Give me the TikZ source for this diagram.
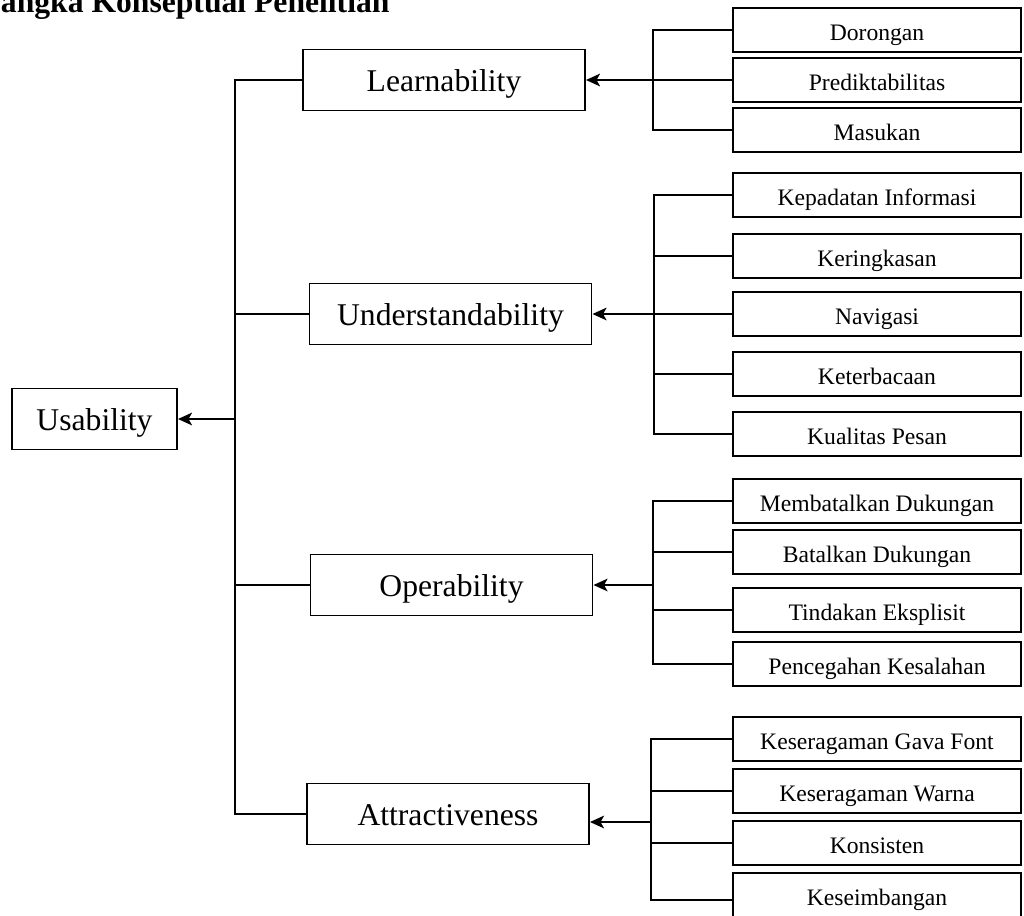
\documentclass[tikz,border=0pt]{standalone}
\usepackage{fontspec}
\setmainfont{Liberation Serif}
\usetikzlibrary{arrows.meta}
\begin{document}
\begin{tikzpicture}[x=0.025cm,y=-0.025cm,
  line width=1.35pt,
  mainbox/.style={draw, inner sep=0pt, minimum width=7.05cm, minimum height=1.525cm,
    text height=19pt, text depth=3.2pt, font=\fontsize{22.5}{27}\selectfont},
  subbox/.style={draw, inner sep=0pt, minimum width=7.2cm, minimum height=1.1cm,
    text height=16.8pt, text depth=2.3pt, font=\fontsize{16.8}{20}\selectfont},
  arr/.style={-{Stealth[length=10pt,width=9pt,inset=2.5pt]}},
  titletext/.style={anchor=base west, inner sep=0pt, font=\fontsize{22.5}{27}\selectfont\bfseries}]
\useasboundingbox (0,0) rectangle (1024,915);
\clip (0,0) rectangle (1024,915);

% title (cropped at the top)
\node[titletext] (title) at (0,12) {angka Konseptual Penelitian};

% main boxes
\node[mainbox, minimum width=4.125cm] (usab) at (94.5,419) {Usability};
\node[mainbox] (learn) at (444,80) {Learnability};
\node[mainbox] (under) at (450.5,314) {Understandability};
\node[mainbox] (oper) at (451.5,585) {Operability};
\node[mainbox] (attr) at (448,814) {Attractiveness};

% group 1
\node[subbox] (dor) at (877,30) {Dorongan};
\node[subbox] (pred) at (877,80) {Prediktabilitas};
\node[subbox] (mas) at (877,130) {Masukan};
% group 2
\node[subbox] (kep) at (877,195) {Kepadatan Informasi};
\node[subbox] (ker) at (877,256) {Keringkasan};
\node[subbox] (nav) at (877,314) {Navigasi};
\node[subbox] (ket) at (877,374) {Keterbacaan};
\node[subbox] (kua) at (877,434) {Kualitas Pesan};
% group 3
\node[subbox] (memb) at (877,501) {Membatalkan Dukungan};
\node[subbox] (bat) at (877,552) {Batalkan Dukungan};
\node[subbox] (tin) at (877,610) {Tindakan Eksplisit};
\node[subbox] (pen) at (877,664) {Pencegahan Kesalahan};
% group 4
\node[subbox] (gaya) at (877,739) {Keseragaman Gava Font};
\node[subbox] (warna) at (877,791) {Keseragaman Warna};
\node[subbox] (kons) at (877,843) {Konsisten};
\node[subbox] (seimb) at (877,895) {Keseimbangan};

% left trunk
\coordinate (ttop) at (235,80);
\coordinate (tbot) at (235,814);
\draw (learn.west) -- (ttop) -- (tbot) -- (attr.west);
\draw (under.west) -- (under.west -| ttop);
\draw (oper.west) -- (oper.west -| ttop);
\draw[arr] (usab.east -| ttop) -- (usab.east);

% group 1 connectors
\coordinate (v1a) at (653,30);
\coordinate (v1b) at (653,130);
\draw (dor.west) -- (v1a) -- (v1b) -- (mas.west);
\draw[arr] (pred.west) -- (learn.east);

% group 2 connectors
\coordinate (v2a) at (654,195);
\coordinate (v2b) at (654,434);
\draw (kep.west) -- (v2a) -- (v2b) -- (kua.west);
\draw (ker.west) -- (ker.west -| v2a);
\draw (ket.west) -- (ket.west -| v2a);
\draw[arr] (nav.west) -- (under.east);

% group 3 connectors
\coordinate (v3a) at (653,501);
\coordinate (v3b) at (653,664);
\draw (memb.west) -- (v3a) -- (v3b) -- (pen.west);
\draw (bat.west) -- (bat.west -| v3a);
\draw (tin.west) -- (tin.west -| v3a);
\coordinate (j3) at (653,585);
\draw[arr] (j3) -- (oper.east);

% group 4 connectors
\coordinate (v4a) at (651,739);
\coordinate (v4b) at (651,900);
\draw (gaya.west) -- (v4a) -- (v4b) -- (v4b -| seimb.west);
\draw (warna.west) -- (warna.west -| v4a);
\draw (kons.west) -- (kons.west -| v4a);
\coordinate (j4) at (651,822);
\draw[arr] (j4) -- (j4 -| attr.east);
\end{tikzpicture}
\end{document}
